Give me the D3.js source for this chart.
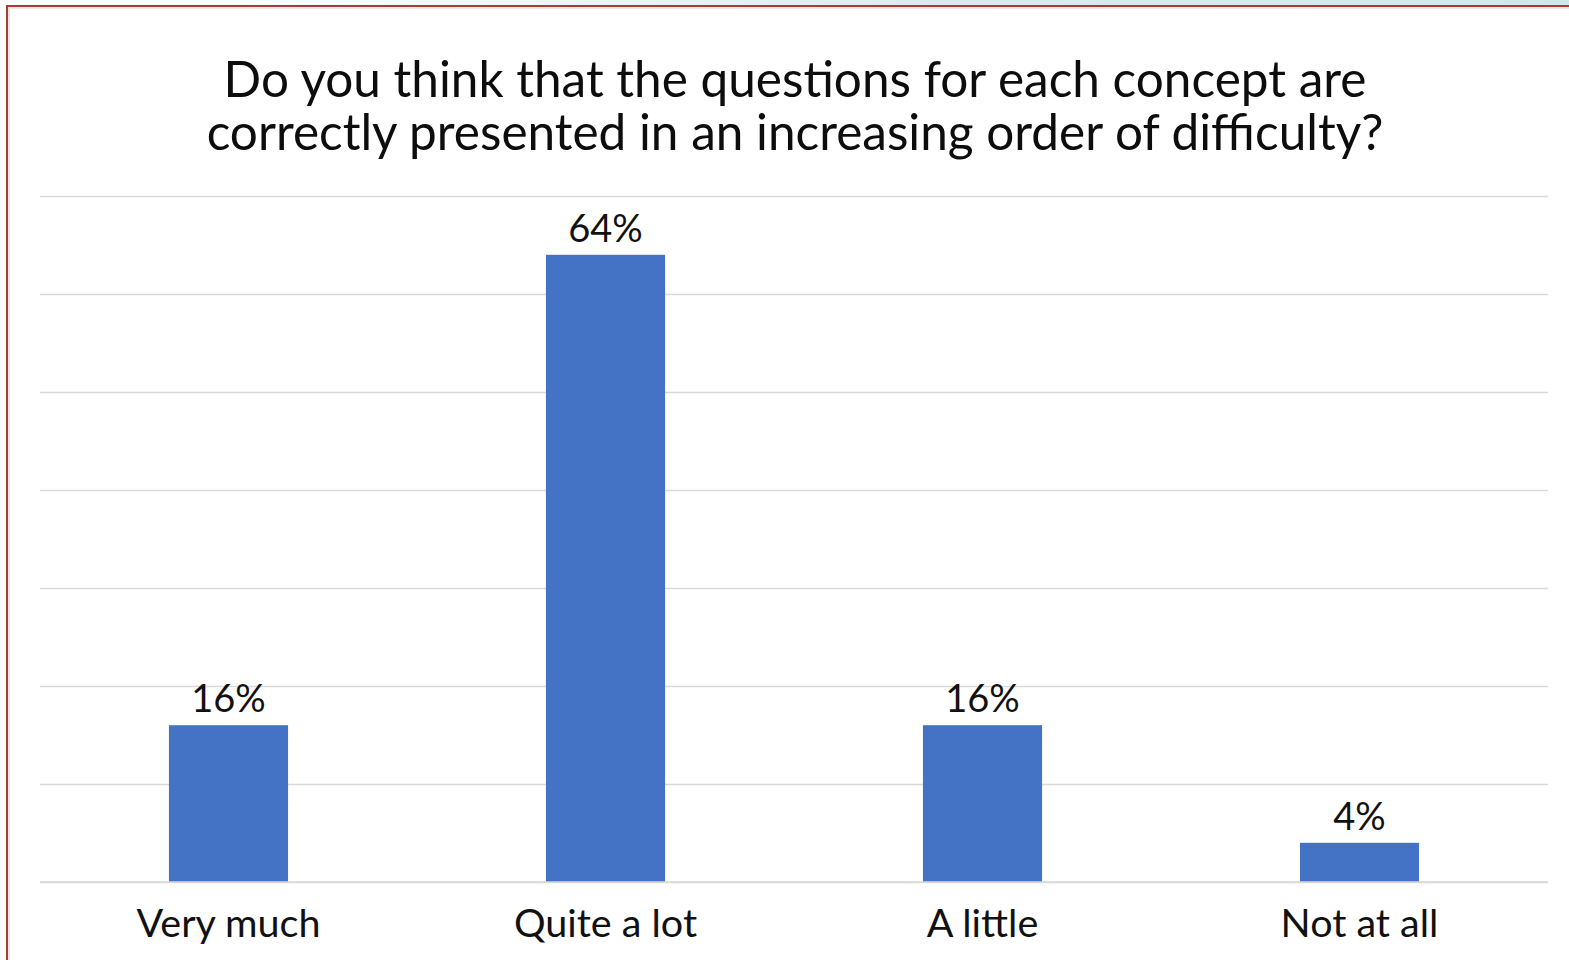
<!DOCTYPE html>
<html><head><meta charset="utf-8">
<script src="https://cdn.jsdelivr.net/npm/d3@7"></script>
<style>html,body{margin:0;padding:0;background:#fff;overflow:hidden}</style>
</head><body>
<svg id="c" width="1569" height="960"></svg>
<script>
const categories = ["Very much", "Quite a lot", "A little", "Not at all"];
const values = [16, 64, 16, 4];
const yTicks = [0, 10, 20, 30, 40, 50, 60, 70];
const titleLines = ["Do you think that the questions for each concept are", "correctly presented in an increasing order of difficulty?"];

(function () {
const svg = d3.select("#c");
const W = 1569, H = 960;
const font = "Lato, 'Open Sans', sans-serif";

const defs = svg.append("defs");
const g = defs.append("linearGradient").attr("id", "strip").attr("x1", 0).attr("x2", 1);
g.append("stop").attr("offset", 0.15).attr("stop-color", "#ffffff");
g.append("stop").attr("offset", 0.6).attr("stop-color", "#dfe8f1");
g.append("stop").attr("offset", 1).attr("stop-color", "#d3e7ef");
svg.append("rect").attr("x", 0).attr("y", 0).attr("width", W).attr("height", 5).attr("fill", "url(#strip)");
svg.append("line").attr("x1", 6).attr("x2", W).attr("y1", 6).attr("y2", 6).attr("stroke", "#a83a3a").attr("stroke-width", 2);
svg.append("line").attr("x1", 7).attr("x2", 7).attr("y1", 6).attr("y2", H).attr("stroke", "#a83a3a").attr("stroke-width", 2);
svg.append("line").attr("x1", 8).attr("x2", W).attr("y1", 8).attr("y2", 8).attr("stroke", "#e6dede").attr("stroke-width", 1.5);
svg.append("line").attr("x1", 9).attr("x2", 9).attr("y1", 8).attr("y2", H).attr("stroke", "#e6dede").attr("stroke-width", 1.5);

const pLeft = 40, pRight = 1548, pTop = 196, pBottom = 882;
const x = d3.scaleBand().domain(categories).range([pLeft, pRight]).paddingInner(0.684).paddingOuter(0.342);
const y = d3.scaleLinear().domain([0, 70]).range([pBottom, pTop]);

const grid = svg.append("g").attr("transform", `translate(${pLeft},0)`)
  .call(d3.axisLeft(y).tickValues(yTicks).tickSize(-(pRight - pLeft)).tickFormat(""));
grid.select(".domain").remove();
grid.selectAll("line").attr("stroke", "#d9d9d9").attr("stroke-width", 1.5);

svg.append("g").selectAll("rect").data(values).join("rect")
  .attr("x", (d, i) => x(categories[i]))
  .attr("y", d => y(d))
  .attr("width", x.bandwidth())
  .attr("height", d => y(0) - y(d))
  .attr("fill", "#4472c4");

svg.append("line").attr("x1", pLeft).attr("x2", pRight).attr("y1", y(0)).attr("y2", y(0))
  .attr("stroke", "#d9d9d9").attr("stroke-width", 1.5);

svg.append("g").selectAll("text").data(values).join("text")
  .attr("x", (d, i) => x(categories[i]) + x.bandwidth() / 2)
  .attr("y", d => y(d) - 13)
  .attr("text-anchor", "middle")
  .attr("font-family", font).attr("font-size", 38).attr("fill", "#111")
  .text(d => d + "%");

const xa = svg.append("g").attr("transform", `translate(0,${pBottom})`)
  .call(d3.axisBottom(x).tickSize(0).tickPadding(0));
xa.select(".domain").remove();
xa.selectAll("text").attr("font-family", font).attr("font-size", 39.5).attr("fill", "#111")
  .attr("dy", 0).attr("y", 55);

svg.append("g").selectAll("text").data(titleLines).join("text")
  .attr("x", 795).attr("y", (d, i) => 97 + i * 53)
  .attr("text-anchor", "middle")
  .attr("font-family", font).attr("font-size", 49.5).attr("fill", "#0d0d0d")
  .text(d => d);
})();
</script>
</body></html>
